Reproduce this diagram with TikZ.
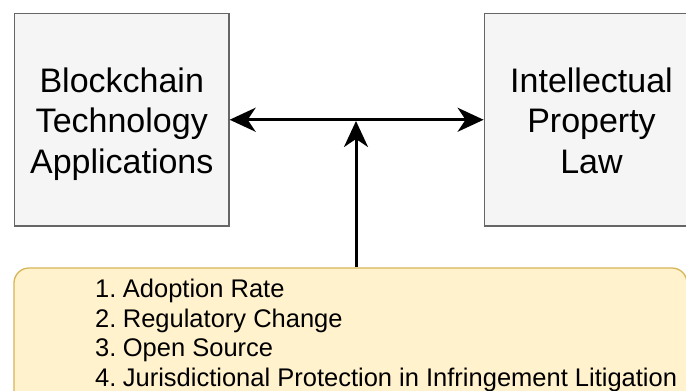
\documentclass[tikz,border=0pt]{standalone}
\usepackage{fontspec}
\setmainfont{Liberation Sans}
\usetikzlibrary{arrows.meta}
\definecolor{boxfill}{HTML}{F5F5F5}
\definecolor{boxline}{HTML}{666666}
\definecolor{notefill}{HTML}{FFF2CC}
\definecolor{noteline}{HTML}{D6B656}
% fixed first-line height and last-line depth, so every box sets its lines alike
\newcommand{\firstrowstrut}{\rule{0pt}{34.1pt}}
\newcommand{\lastrowstrut}{\rule[-8pt]{0pt}{1pt}}
\begin{document}
\begin{tikzpicture}[x=1pt,y=-1pt,
  >={Stealth[length=26pt, width=24pt, inset=8pt]},
  topic/.style={draw=boxline, fill=boxfill, line width=1.3pt,
    minimum width=214.5pt, minimum height=212.5pt, inner sep=0pt,
    align=center, font=\fontsize{34}{40.5}\selectfont},
  note/.style={draw=noteline, fill=notefill, line width=1.3pt,
    rounded corners=15pt, minimum width=673pt, minimum height=140pt},
  item/.style={anchor=base west, inner sep=0pt, font=\fontsize{25.5}{30}\selectfont},
  link/.style={line width=3pt}]
\useasboundingbox (0,0) rectangle (686,391);
\clip (0,0) rectangle (686,391);

% the two subject areas
\node[topic] (chain) at (121.75,119.75) {\firstrowstrut Blockchain\\Technology\\Applications\lastrowstrut};
\node[topic] (iplaw) at (591.5,119.75) {\firstrowstrut Intellectual\\Property\\Law\lastrowstrut};

% factor list at the bottom
\node[note] (note) at (350.5,338) {};
\node[item] (f1) at (95,297.3) {\makebox[27.7pt][l]{1.}Adoption Rate};
\node[item] (f2) at (95,327.1) {\makebox[27.7pt][l]{2.}Regulatory Change};
\node[item] (f3) at (95,356.9) {\makebox[27.7pt][l]{3.}Open Source};
\node[item] (f4) at (95,386.7) {\makebox[27.7pt][l]{4.}Jurisdictional Protection in Infringement Litigation};

% connectors
\coordinate (join) at (356,121);
\draw[link, <->] (chain.east) -- (iplaw.west);
\draw[link, ->] (join |- note.north) -- (join);
\end{tikzpicture}
\end{document}
